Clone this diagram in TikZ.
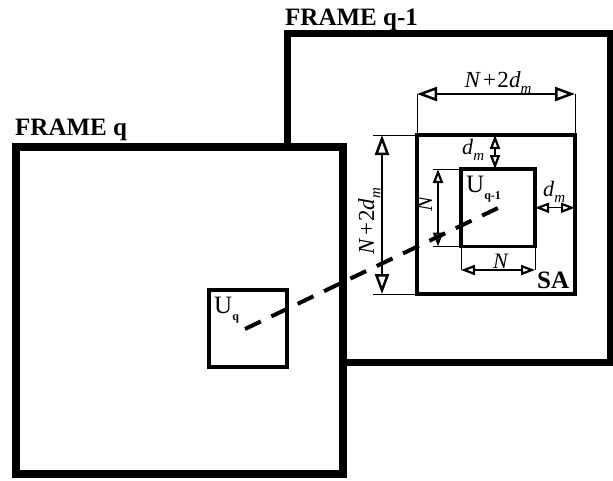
\documentclass[tikz,border=0pt]{standalone}
\usepackage{fontspec}
\setmainfont{Liberation Serif}
\usetikzlibrary{arrows.meta,calc}
\newcommand{\dmtext}{\textit{d}\raisebox{-0.28em}{\fontsize{15}{15}\selectfont\textit{m}}}
\newcommand{\Ntext}{\textit{N}}
\newcommand{\Ntwodm}{\Ntext\kern2pt+\kern1.5pt2\dmtext}
\tikzset{
  frame/.style={draw, fill=white, inner sep=0pt, outer sep=0pt},
  box/.style={draw, fill=white, line width=4pt, inner sep=0pt, outer sep=0pt},
  dimline/.style={line width=1.1pt},
  extline/.style={line width=1pt},
  bigtip/.tip={Triangle[open,length=20pt,width=14pt,line width=2.5pt]},
  smalltip/.tip={Triangle[open,length=14pt,width=10pt,line width=2.2pt]},
  bigdim/.style={dimline, bigtip-bigtip},
  smalldim/.style={dimline, smalltip-smalltip},
  title/.style={inner sep=0pt, font=\fontsize{25}{25}\selectfont\bfseries},
  lab/.style={inner sep=0pt, font=\fontsize{23}{23}\selectfont},
  slab/.style={inner sep=0pt, font=\fontsize{22}{22}\selectfont},
  ulab/.style={inner sep=0pt, font=\fontsize{25}{25}\selectfont},
  dashline/.style={line width=4pt, dash pattern=on 17.5pt off 11.7pt},
}
\begin{document}
\begin{tikzpicture}[x=1pt,y=-1pt]
\useasboundingbox[fill=white] (0,0) rectangle (613,480);

% FRAME q-1
\node[frame, line width=7pt, minimum width=323pt, minimum height=329pt] (Fq1) at (448.5,197.5) {};
\node[title, anchor=base west] (Tq1) at (285,25) {FRAME q-1};

% SA and U_{q-1}
\node[box, minimum width=158pt, minimum height=159pt] (SA) at (496,214.5) {};
\node[box, line width=3.5pt, minimum width=74pt, minimum height=77.5pt] (Uq1) at (498,207.75) {};
\node[ulab, anchor=base west] (SAl) at (537,288) {\bfseries SA};
\node[ulab, anchor=base west] (Uq1l) at (466,192) {U\raisebox{-0.3em}{\fontsize{12}{12}\selectfont\bfseries q-1}};

% top dimension N+2d_m
\coordinate (tL) at (SA.north west |- 0,94);
\coordinate (tR) at (SA.north east |- 0,94);
\draw[extline] (SA.north west) -- (tL);
\draw[extline] (SA.north east) -- (tR);
\draw[bigdim] (tL) -- (tR);
\node[lab, anchor=base] (tlab) at (498,87) {\Ntwodm};

% left dimension N+2d_m
\coordinate (lT) at (382,0 |- SA.north west);
\coordinate (lB) at (382,0 |- SA.south west);
\coordinate (eT) at (373,0 |- SA.north west);
\coordinate (eB) at (373,0 |- SA.south west);
\draw[extline] (eT) -- (SA.north west);
\draw[extline] (eB) -- (SA.south west);
\draw[bigdim] (lT) -- (lB);
\node[lab, anchor=base, rotate=90] (llab) at (374,221) {\Ntwodm};

% d_m top
\coordinate (dT) at (495,0 |- SA.north);
\coordinate (dB) at (495,0 |- Uq1.north);
\draw[smalldim] (dT) -- (dB);
\node[slab, anchor=base west] (dtl) at (462,154) {\dmtext};

% d_m right
\coordinate (rL) at (Uq1.east);
\coordinate (rR) at (SA.east |- Uq1.east);
\draw[smalldim] (rL) -- (rR);
\node[slab, anchor=base west] (drl) at (543,196) {\dmtext};

% N vertical
\coordinate (nT) at (438,0 |- Uq1.north west);
\coordinate (nB) at (438,0 |- Uq1.south west);
\coordinate (neT) at (433,0 |- Uq1.north west);
\coordinate (neB) at (433,0 |- Uq1.south west);
\draw[extline] (neT) -- (Uq1.north west);
\draw[extline] (neB) -- (Uq1.south west);
\draw[smalldim] (nT) -- (nB);
\node[slab, rotate=90] (nvl) at (425,204) {\Ntext};

% N horizontal
\coordinate (hL) at (Uq1.south west |- 0,270);
\coordinate (hR) at (Uq1.south east |- 0,270);
\draw[extline] (Uq1.south west) -- (hL);
\draw[extline] (Uq1.south east) -- (hR);
\draw[smalldim] (hL) -- (hR);
\node[slab, anchor=base] (nhl) at (501,268) {\Ntext};

% FRAME q
\node[frame, line width=8pt, minimum width=327pt, minimum height=327pt] (Fq) at (179.5,310.5) {};
\node[title, anchor=base west] (Tq) at (15,135) {FRAME q};

% U_q
\node[box, minimum width=78pt, minimum height=77pt] (Uq) at (247.5,328.5) {};
\node[ulab, anchor=base west] (Uql) at (214,313) {U\raisebox{-0.3em}{\fontsize{12}{12}\selectfont\bfseries q}};

% dashed connection
\coordinate (cA) at (245,329);
\coordinate (cB) at (498,208);
\draw[dashline] (cA) -- (cB);
\end{tikzpicture}
\end{document}
